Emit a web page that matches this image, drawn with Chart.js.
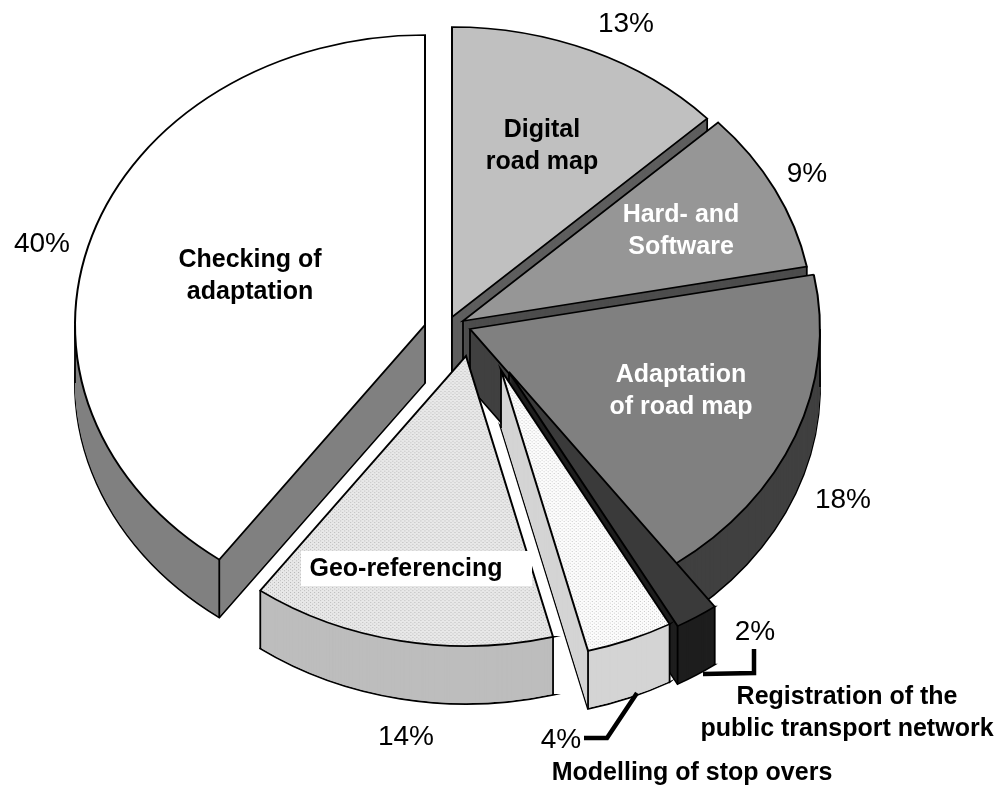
<!DOCTYPE html>
<html>
<head>
<meta charset="utf-8">
<script src="https://cdn.jsdelivr.net/npm/chart.js@4.4.1/dist/chart.umd.min.js"></script>
<style>
  html, body { margin: 0; padding: 0; background: #fff; }
  #contenedor { position: relative; width: 1003px; height: 788px; }
</style>
</head>
<body>
<div id="contenedor"><canvas id="graficoTarta" width="1003" height="788"></canvas></div>
<script>
// Datos del gráfico (porcentajes)
const categorias = ["Digital road map", "Hard- and Software", "Adaptation of road map",
  "Registration of the public transport network", "Modelling of stop overs",
  "Geo-referencing", "Checking of adaptation"];
const valores = [13, 9, 18, 2, 4, 14, 40];
const textosPct = ["13%", "9%", "18%", "2%", "4%", "14%", "40%"];
const lineasNombre = [["Digital", "road map"], ["Hard- and", "Software"], ["Adaptation", "of road map"],
  ["Registration of the", "public transport network"], ["Modelling of stop overs"],
  ["Geo-referencing"], ["Checking of", "adaptation"]];

// Geometría y estilos de la tarta 3D
const CENTRO = { x: 445, y: 330 };
const RADIO_X = 350;
const RADIO_Y = 290;
const PROFUNDIDAD = 58;
const explosion = [[7, -13], [18, -9], [25, -1], [64, 42], [56, 40], [21, 26], [-20, -5]];
const FUENTE = '"Liberation Sans", Arial, Helvetica, sans-serif';

const canvas = document.getElementById('graficoTarta');
const ctxBase = canvas.getContext('2d');

// Tramas punteadas como en el original
function crearTrama(base, punto, puntos) {
  const c = document.createElement('canvas');
  c.width = 4; c.height = 4;
  const g = c.getContext('2d');
  g.fillStyle = base;
  g.fillRect(0, 0, 4, 4);
  g.fillStyle = punto;
  for (let p of puntos) g.fillRect(p[0], p[1], 1, 1);
  return ctxBase.createPattern(c, 'repeat');
}

const tramaGeo = crearTrama('#e8e8e8', '#b4b4b4', [[0, 0], [2, 2]]);
const tramaMod = crearTrama('#fcfcfc', '#c4c4c4', [[0, 0], [2, 2]]);

const colorCara = ['#c0c0c0', '#969696', '#808080', '#3a3a3a', tramaMod, tramaGeo, '#ffffff'];
const colorLado = ['#5e5e5e', '#4d4d4d', '#404040', '#1e1e1e', '#d4d4d4', '#bdbdbd', '#808080'];

const posNombre = [[542, 137], [681, 222], [681, 382], [847, 704], [692, 780], [406, 576], [250, 267]];
const colorNombre = ['#000', '#fff', '#fff', '#000', '#000', '#000', '#000'];
const posPct = [[626, 32], [807, 182], [843, 508], [755, 640], [561, 748], [406, 745], [42, 252]];

// Dibuja una copia del arco de Chart.js con otro relleno/borde
function pintarArco(ctx, arco, fondo, ancho) {
  const copia = Object.assign(Object.create(Object.getPrototypeOf(arco)), arco);
  copia.options = Object.assign({}, arco.options, { backgroundColor: fondo, borderWidth: ancho });
  copia.draw(ctx);
}

function transformar(ctx, arco, i, d) {
  const R = arco.outerRadius;
  ctx.translate(CENTRO.x + explosion[i][0], CENTRO.y + explosion[i][1] + d);
  ctx.scale(RADIO_X / R, RADIO_Y / R);
  ctx.translate(-arco.x, -arco.y);
}

function puntoBorde(i, ang) {
  return [CENTRO.x + explosion[i][0] + Math.cos(ang) * RADIO_X,
          CENTRO.y + explosion[i][1] + Math.sin(ang) * RADIO_Y];
}

function lineaVertical(ctx, p) {
  ctx.beginPath();
  ctx.moveTo(p[0], p[1]);
  ctx.lineTo(p[0], p[1] + PROFUNDIDAD);
  ctx.stroke();
}

const tarta3D = {
  id: 'tarta3D',
  beforeDatasetsDraw(chart) {
    const ctx = chart.ctx;
    const arcos = chart.getDatasetMeta(0).data;

    // de atrás hacia adelante
    const orden = arcos.map((a, i) => i).sort((a, b) => {
      const ya = Math.sin((arcos[a].startAngle + arcos[a].endAngle) / 2) * RADIO_Y + explosion[a][1];
      const yb = Math.sin((arcos[b].startAngle + arcos[b].endAngle) / 2) * RADIO_Y + explosion[b][1];
      return ya - yb;
    });

    for (let i of orden) {
      const arco = arcos[i];
      // lateral (extrusión)
      for (let d = PROFUNDIDAD; d >= 1; d--) {
        ctx.save();
        transformar(ctx, arco, i, d);
        pintarArco(ctx, arco, colorLado[i], d === PROFUNDIDAD ? 2 : 0);
        ctx.restore();
      }
      // aristas verticales
      ctx.save();
      ctx.strokeStyle = '#000';
      ctx.lineWidth = 1.8;
      lineaVertical(ctx, [CENTRO.x + explosion[i][0], CENTRO.y + explosion[i][1]]);
      lineaVertical(ctx, puntoBorde(i, arco.startAngle));
      lineaVertical(ctx, puntoBorde(i, arco.endAngle));
      for (let extremo of [0, Math.PI]) {
        if (arco.startAngle < extremo && arco.endAngle > extremo) lineaVertical(ctx, puntoBorde(i, extremo));
      }
      ctx.restore();
      // cara superior
      ctx.save();
      transformar(ctx, arco, i, 0);
      pintarArco(ctx, arco, colorCara[i], 2);
      ctx.restore();
    }
    return false;
  },
  afterDraw(chart) {
    const ctx = chart.ctx;
    ctx.save();
    ctx.textAlign = 'center';
    ctx.textBaseline = 'alphabetic';

    // caja blanca de Geo-referencing
    ctx.fillStyle = '#fff';
    ctx.fillRect(301, 551, 231, 35);

    ctx.font = 'bold 25px ' + FUENTE;
    lineasNombre.forEach((lineas, i) => {
      ctx.fillStyle = colorNombre[i];
      lineas.forEach((t, k) => ctx.fillText(t, posNombre[i][0], posNombre[i][1] + k * 32));
    });

    ctx.font = '28px ' + FUENTE;
    ctx.fillStyle = '#000';
    textosPct.forEach((t, i) => ctx.fillText(t, posPct[i][0], posPct[i][1]));

    // líneas guía
    ctx.strokeStyle = '#000';
    ctx.lineWidth = 4.5;
    ctx.lineJoin = 'miter';
    ctx.beginPath();
    ctx.moveTo(584, 738); ctx.lineTo(607, 738); ctx.lineTo(637, 693);
    ctx.stroke();
    ctx.beginPath();
    ctx.moveTo(703, 674); ctx.lineTo(754, 673); ctx.lineTo(754, 649);
    ctx.stroke();
    ctx.restore();
  }
};

window.miGrafica = new Chart(canvas, {
  type: 'pie',
  data: {
    labels: categorias,
    datasets: [{
      data: valores,
      backgroundColor: colorCara,
      borderColor: '#000',
      borderWidth: 2,
      borderJoinStyle: 'miter'
    }]
  },
  options: {
    responsive: false,
    animation: false,
    events: [],
    layout: { padding: { top: 44, bottom: 44 } },
    plugins: {
      legend: { display: false },
      tooltip: { enabled: false }
    }
  },
  plugins: [tarta3D]
});
</script>
</body>
</html>
